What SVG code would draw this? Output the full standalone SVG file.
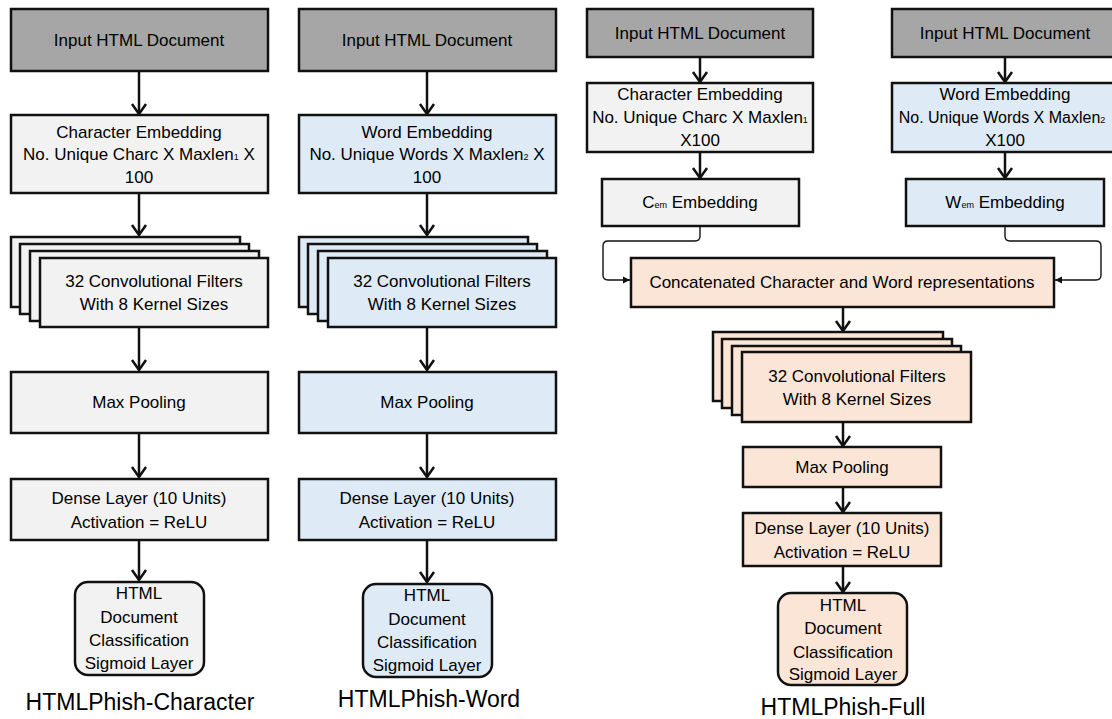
<svg xmlns="http://www.w3.org/2000/svg" width="1112" height="719" viewBox="0 0 1112 719">
<style>
text{font-family:"Liberation Sans",Arial,sans-serif;font-size:17px;fill:#000;text-anchor:middle}
.lbl{font-size:23px}
.sub{font-size:9px}
.box{stroke:#111;stroke-width:2.5}
.in{fill:#a6a6a6}
.g{fill:#f2f2f2}
.b{fill:#deeaf6}
.p{fill:#fbe5d6}
.arr{stroke:#111;stroke-width:2.5;fill:none;marker-end:url(#chev)}
.thin{stroke:#111;stroke-width:1.4;fill:none;marker-end:url(#tri)}
</style>
<defs>
<marker id="chev" markerUnits="userSpaceOnUse" viewBox="-12 -9 14 18" markerWidth="14" markerHeight="18" refX="0" refY="0" orient="auto">
<path d="M-10,-7 L0,0 L-10,7" fill="none" stroke="#111" stroke-width="2.5"/>
</marker>
<marker id="tri" markerUnits="userSpaceOnUse" viewBox="-7 -4 8 8" markerWidth="8" markerHeight="8" refX="0" refY="0" orient="auto">
<path d="M-7,-3.5 L0,0 L-7,3.5 Z" fill="#111"/>
</marker>
</defs>

<g id="connectors">
<line class="arr" x1="139" y1="71" x2="139" y2="114"/>
<line class="arr" x1="139" y1="193" x2="139" y2="235"/>
<line class="arr" x1="139" y1="327" x2="139" y2="370"/>
<line class="arr" x1="139" y1="433" x2="139" y2="477"/>
<line class="arr" x1="139" y1="540" x2="139" y2="580"/>

<line class="arr" x1="427" y1="71" x2="427" y2="114"/>
<line class="arr" x1="427" y1="193" x2="427" y2="235"/>
<line class="arr" x1="427" y1="327" x2="427" y2="370"/>
<line class="arr" x1="427" y1="433" x2="427" y2="477"/>
<line class="arr" x1="427" y1="540" x2="427" y2="582"/>

<line class="arr" x1="700" y1="57" x2="700" y2="82"/>
<line class="arr" x1="700" y1="152" x2="700" y2="178"/>
<line class="arr" x1="1005" y1="57" x2="1005" y2="82"/>
<line class="arr" x1="1005" y1="152" x2="1005" y2="178"/>
<path class="thin" d="M700,226 V236 Q700,241 695,241 H608 Q603,241 603,246 V275 Q603,280 608,280 H630"/>
<path class="thin" d="M1005,226 V236 Q1005,241 1010,241 H1096 Q1101,241 1101,246 V275 Q1101,280 1096,280 H1055"/>
<line class="arr" x1="843" y1="307" x2="843" y2="331"/>
<line class="arr" x1="843" y1="422" x2="843" y2="446"/>
<line class="arr" x1="843" y1="487" x2="843" y2="512"/>
<line class="arr" x1="843" y1="566" x2="843" y2="592"/>
</g>

<!-- Character column -->
<g id="c-input"><rect class="box in" x="11" y="9" width="257" height="62"/><text x="139" y="46">Input HTML Document</text></g>
<g id="c-embed"><rect class="box g" x="11" y="115" width="257" height="78"/>
<text x="139" y="138">Character Embedding</text>
<text x="139" y="160">No. Unique Charc X Maxlen<tspan class="sub">1</tspan> X</text>
<text x="139" y="183">100</text></g>
<g id="c-conv">
<rect class="box g" x="11" y="237" width="229" height="70"/>
<rect class="box g" x="20" y="244" width="229" height="70"/>
<rect class="box g" x="30" y="251" width="229" height="70"/>
<rect class="box g" x="40" y="258" width="228" height="69"/>
<text x="154" y="287">32 Convolutional Filters</text>
<text x="154" y="310">With 8 Kernel Sizes</text></g>
<g id="c-pool"><rect class="box g" x="11" y="372" width="257" height="61"/><text x="139" y="408">Max Pooling</text></g>
<g id="c-dense"><rect class="box g" x="11" y="479" width="257" height="61"/>
<text x="139" y="504">Dense Layer (10 Units)</text>
<text x="139" y="528">Activation = ReLU</text></g>
<g id="c-out"><rect class="box g" x="75" y="582" width="129" height="93" rx="13"/>
<text x="139" y="599">HTML</text>
<text x="139" y="623">Document</text>
<text x="139" y="646">Classification</text>
<text x="139" y="669">Sigmoid Layer</text></g>
<text class="lbl" x="140" y="710">HTMLPhish-Character</text>

<!-- Word column -->
<g id="w-input"><rect class="box in" x="299" y="9" width="257" height="62"/><text x="427" y="46">Input HTML Document</text></g>
<g id="w-embed"><rect class="box b" x="299" y="115" width="257" height="78"/>
<text x="427" y="138">Word Embedding</text>
<text x="427" y="160">No. Unique Words X Maxlen<tspan class="sub">2</tspan> X</text>
<text x="427" y="183">100</text></g>
<g id="w-conv">
<rect class="box b" x="299" y="237" width="229" height="70"/>
<rect class="box b" x="308" y="244" width="229" height="70"/>
<rect class="box b" x="318" y="251" width="229" height="70"/>
<rect class="box b" x="328" y="258" width="228" height="69"/>
<text x="442" y="287">32 Convolutional Filters</text>
<text x="442" y="310">With 8 Kernel Sizes</text></g>
<g id="w-pool"><rect class="box b" x="299" y="372" width="257" height="61"/><text x="427" y="408">Max Pooling</text></g>
<g id="w-dense"><rect class="box b" x="299" y="479" width="257" height="61"/>
<text x="427" y="504">Dense Layer (10 Units)</text>
<text x="427" y="528">Activation = ReLU</text></g>
<g id="w-out"><rect class="box b" x="363" y="584" width="129" height="93" rx="13"/>
<text x="427" y="601">HTML</text>
<text x="427" y="625">Document</text>
<text x="427" y="648">Classification</text>
<text x="427" y="671">Sigmoid Layer</text></g>
<text class="lbl" x="429" y="707">HTMLPhish-Word</text>

<!-- Full model -->
<g id="f-input-c"><rect class="box in" x="587" y="9" width="226" height="48"/><text x="700" y="39">Input HTML Document</text></g>
<g id="f-embed-c"><rect class="box g" x="587" y="83" width="226" height="69"/>
<text x="700" y="100">Character Embedding</text>
<text x="700" y="123">No. Unique Charc X Maxlen<tspan class="sub">1</tspan></text>
<text x="700" y="146">X100</text></g>
<g id="f-cem"><rect class="box g" x="602" y="179" width="197" height="47"/>
<text x="700" y="208">C<tspan class="sub">em</tspan> Embedding</text></g>
<g id="f-input-w"><rect class="box in" x="892" y="9" width="226" height="48"/><text x="1005" y="39">Input HTML Document</text></g>
<g id="f-embed-w"><rect class="box b" x="892" y="83" width="226" height="69"/>
<text x="1005" y="100">Word Embedding</text>
<text x="1002" y="123" style="font-size:16px">No. Unique Words X Maxlen<tspan class="sub">2</tspan></text>
<text x="1005" y="146">X100</text></g>
<g id="f-wem"><rect class="box b" x="906" y="179" width="198" height="47"/>
<text x="1005" y="208">W<tspan class="sub">em</tspan> Embedding</text></g>
<g id="f-concat"><rect class="box p" x="631" y="258" width="423" height="49"/>
<text x="842" y="288">Concatenated Character and Word representations</text></g>
<g id="f-conv">
<rect class="box p" x="713" y="332" width="230" height="69"/>
<rect class="box p" x="722" y="339" width="230" height="69"/>
<rect class="box p" x="732" y="346" width="229" height="69"/>
<rect class="box p" x="742" y="352" width="229" height="70"/>
<text x="857" y="382">32 Convolutional Filters</text>
<text x="857" y="405">With 8 Kernel Sizes</text></g>
<g id="f-pool"><rect class="box p" x="743" y="447" width="198" height="40"/><text x="842" y="473">Max Pooling</text></g>
<g id="f-dense"><rect class="box p" x="743" y="513" width="198" height="53"/>
<text x="842" y="534">Dense Layer (10 Units)</text>
<text x="842" y="558">Activation = ReLU</text></g>
<g id="f-out"><rect class="box p" x="778" y="593" width="129" height="92" rx="13"/>
<text x="843" y="611">HTML</text>
<text x="843" y="634">Document</text>
<text x="843" y="658">Classification</text>
<text x="843" y="680">Sigmoid Layer</text></g>
<text class="lbl" x="843" y="715">HTMLPhish-Full</text>
</svg>
